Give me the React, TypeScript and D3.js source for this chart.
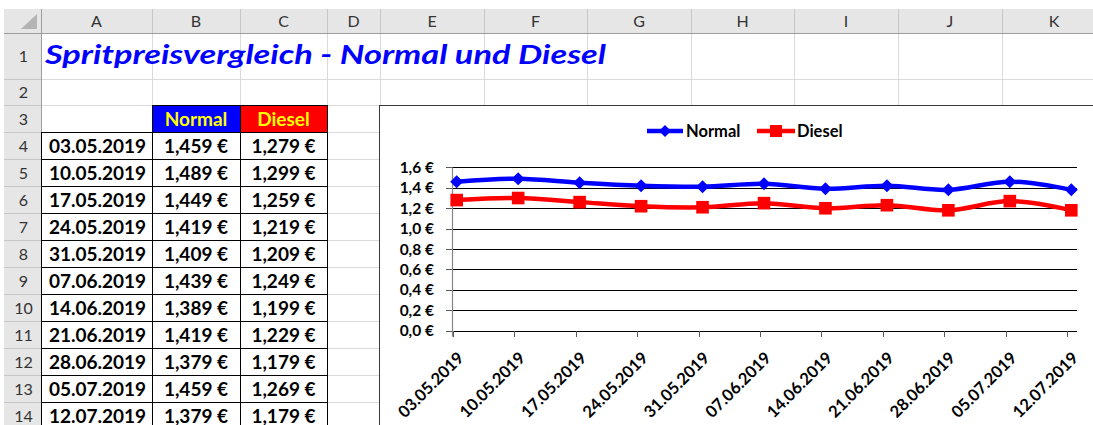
import React from "react";
import * as d3 from "d3";

// ---- data ----
const title = "Spritpreisvergleich - Normal und Diesel";
const columnLetters = ["A", "B", "C", "D", "E", "F", "G", "H", "I", "J", "K"];
const rowNumbers = [1, 2, 3, 4, 5, 6, 7, 8, 9, 10, 11, 12, 13, 14];
const seriesNames = ["Normal", "Diesel"];
const dates = [
  "03.05.2019", "10.05.2019", "17.05.2019", "24.05.2019", "31.05.2019", "07.06.2019",
  "14.06.2019", "21.06.2019", "28.06.2019", "05.07.2019", "12.07.2019",
];
const normal = [1.459, 1.489, 1.449, 1.419, 1.409, 1.439, 1.389, 1.419, 1.379, 1.459, 1.379];
const diesel = [1.279, 1.299, 1.259, 1.219, 1.209, 1.249, 1.199, 1.229, 1.179, 1.269, 1.179];
const yTicks = [0, 0.2, 0.4, 0.6, 0.8, 1.0, 1.2, 1.4, 1.6];

// ---- layout ----
const W = 1093, H = 425;
const colEdges = [4, 41, 152, 240, 327, 380, 484, 587, 691, 794, 898, 1002, 1106];
const rowEdges = [9, 33, 79, 105, 132, 159, 186, 213, 240, 267, 294, 321, 348, 375, 402, 429];
const FONT = "Lato, Calibri, 'Noto Sans', sans-serif";

const fmtPrice = (v: number) => v.toFixed(3).replace(".", ",") + " €";
const fmtTick = (v: number) => v.toFixed(1).replace(".", ",") + " €";

export default function App() {
  const x = d3.scalePoint<string>().domain(dates).range([452.7, 1067.3]);
  const y = d3.scaleLinear().domain([0, 1.6]).range([330.7, 167.3]);
  const mOff = 4;
  const line = d3
    .line<number>()
    .x((_, i) => (x(dates[i]) as number) + mOff)
    .y((v) => y(v))
    .curve(d3.curveCatmullRom.alpha(0.5));

  const headerBottom = rowEdges[1];
  const gridRight = W;
  const gridBottom = H;

  const diamond = (cx: number, cy: number, r: number) =>
    `M${cx},${cy - r}L${cx + r},${cy}L${cx},${cy + r}L${cx - r},${cy}Z`;

  const tableRows = dates.map((d, i) => ({ d, n: normal[i], s: diesel[i] }));

  return (
    <div style={{ position: "fixed", left: 0, top: 0, width: W, height: H, background: "#fff" }}>
      <svg width={W} height={H} style={{ display: "block" }} fontFamily={FONT}>
        <rect x={0} y={0} width={W} height={H} fill="#fff" />
        {/* cell gridlines */}
        {colEdges.slice(1).map((cx, i) => (
          <line key={"gv" + i} x1={cx + 0.5} x2={cx + 0.5} y1={headerBottom} y2={gridBottom} stroke="#dadada" />
        ))}
        {rowEdges.slice(1).map((ry, i) => (
          <line key={"gh" + i} x1={colEdges[1]} x2={gridRight} y1={ry + 0.5} y2={ry + 0.5} stroke="#dadada" />
        ))}
        {/* column header */}
        <rect x={colEdges[0]} y={rowEdges[0]} width={gridRight - colEdges[0]} height={rowEdges[1] - rowEdges[0]} fill="#e6e6e6" />
        {/* row header */}
        <rect x={colEdges[0]} y={rowEdges[1]} width={colEdges[1] - colEdges[0]} height={gridBottom - rowEdges[1]} fill="#e6e6e6" />
        {colEdges.slice(1).map((cx, i) => (
          <line key={"hv" + i} x1={cx + 0.5} x2={cx + 0.5} y1={rowEdges[0]} y2={rowEdges[1]} stroke="#c6c6c6" />
        ))}
        {rowEdges.slice(2).map((ry, i) => (
          <line key={"hh" + i} x1={colEdges[0]} x2={colEdges[1]} y1={ry + 0.5} y2={ry + 0.5} stroke="#c6c6c6" />
        ))}
        <line x1={colEdges[0]} x2={gridRight} y1={rowEdges[1] + 0.5} y2={rowEdges[1] + 0.5} stroke="#9e9e9e" />
        <line x1={colEdges[1] + 0.5} x2={colEdges[1] + 0.5} y1={rowEdges[0]} y2={gridBottom} stroke="#9e9e9e" />
        {/* corner triangle */}
        <path d={`M21,29L37,29L37,14Z`} fill="#b4b4b4" />
        {columnLetters.map((c, i) => (
          <text key={"cl" + i} x={(colEdges[i + 1] + colEdges[i + 2]) / 2} y={27} textAnchor="middle" fontSize={16} fill="#333">
            {c}
          </text>
        ))}
        {rowNumbers.map((r, i) => (
          <text key={"rn" + i} x={(colEdges[0] + colEdges[1]) / 2 + 1} y={(rowEdges[i + 1] + rowEdges[i + 2]) / 2 + 6} textAnchor="middle" fontSize={16} fill="#333">
            {r}
          </text>
        ))}
        {/* title */}
        <text x={45} y={64} fontSize={27} fontWeight="bold" fontStyle="italic" fill="#0000ff" textLength={561} lengthAdjust="spacingAndGlyphs">
          {title}
        </text>
        {/* header cells */}
        <rect x={colEdges[2] + 0.5} y={rowEdges[3] + 0.5} width={colEdges[3] - colEdges[2]} height={rowEdges[4] - rowEdges[3]} fill="#0000ff" stroke="#000" />
        <rect x={colEdges[3] + 0.5} y={rowEdges[3] + 0.5} width={colEdges[4] - colEdges[3]} height={rowEdges[4] - rowEdges[3]} fill="#ff0000" stroke="#000" />
        {seriesNames.map((s, i) => (
          <text key={"sh" + i} x={(colEdges[i + 2] + colEdges[i + 3]) / 2} y={(rowEdges[3] + rowEdges[4]) / 2 + 7} textAnchor="middle" fontSize={19} fontWeight="bold" fill="#ffff00">
            {s}
          </text>
        ))}
        {/* table */}
        {tableRows.map((r, i) => {
          const y0 = rowEdges[4 + i];
          const y1 = rowEdges[5 + i];
          const ty = (y0 + y1) / 2 + 7;
          return (
            <g key={"tr" + i}>
              {[0, 1, 2].map((c) => (
                <rect key={c} x={colEdges[c + 1] + 0.5} y={y0 + 0.5} width={colEdges[c + 2] - colEdges[c + 1]} height={y1 - y0} fill="#fff" stroke="#000" />
              ))}
              <text x={(colEdges[1] + colEdges[2]) / 2 + 1} y={ty} textAnchor="middle" fontSize={19} fontWeight="bold" fill="#000">{r.d}</text>
              <text x={(colEdges[2] + colEdges[3]) / 2} y={ty} textAnchor="middle" fontSize={19} fontWeight="bold" fill="#000">{fmtPrice(r.n)}</text>
              <text x={(colEdges[3] + colEdges[4]) / 2} y={ty} textAnchor="middle" fontSize={19} fontWeight="bold" fill="#000">{fmtPrice(r.s)}</text>
            </g>
          );
        })}
        {/* chart area */}
        <rect x={379.5} y={105.5} width={W} height={H} fill="#fff" stroke="#3a3a3a" />
        {/* gridlines */}
        {yTicks.map((t, i) => (
          <line key={"yg" + i} x1={452} x2={1077} y1={Math.round(y(t)) + 0.5} y2={Math.round(y(t)) + 0.5} stroke="#000" />
        ))}
        {/* y axis */}
        <line x1={452.5} x2={452.5} y1={y(1.6)} y2={y(0) + 6} stroke="#868686" strokeWidth={1.2} />
        {yTicks.map((t, i) => (
          <g key={"yt" + i}>
            <line x1={446} x2={452} y1={Math.round(y(t)) + 0.5} y2={Math.round(y(t)) + 0.5} stroke="#595959" />
            <text x={434} y={y(t) + 5.5} textAnchor="end" fontSize={15.5} fontWeight="bold" fill="#000">{fmtTick(t)}</text>
          </g>
        ))}
        {/* x ticks & labels */}
        {dates.map((d, i) => {
          const tx = Math.round(x(d) as number) + 0.5;
          return (
            <g key={"xt" + i}>
              <line x1={tx} x2={tx} y1={331} y2={337} stroke="#595959" />
              <text transform={`translate(${(x(d) as number) + 12},${359}) rotate(-45)`} textAnchor="end" fontSize={16.5} fontWeight="bold" fill="#000">
                {d}
              </text>
            </g>
          );
        })}
        {/* series */}
        <path d={line(normal) ?? ""} fill="none" stroke="#0000ff" strokeWidth={4.5} strokeLinejoin="round" />
        <path d={line(diesel) ?? ""} fill="none" stroke="#ff0000" strokeWidth={4.5} strokeLinejoin="round" />
        {normal.map((v, i) => (
          <path key={"nm" + i} d={diamond((x(dates[i]) as number) + mOff, y(v), 6.5)} fill="#0000ff" />
        ))}
        {diesel.map((v, i) => (
          <rect key={"dm" + i} x={(x(dates[i]) as number) + mOff - 6.3} y={y(v) - 6.3} width={12.6} height={12.6} fill="#ff0000" />
        ))}
        {/* legend */}
        <line x1={647} x2={683} y1={131} y2={131} stroke="#0000ff" strokeWidth={4.5} />
        <path d={diamond(665, 131, 6)} fill="#0000ff" />
        <text x={686} y={136.5} fontSize={16.5} fontWeight="bold" fill="#000">{seriesNames[0]}</text>
        <line x1={757} x2={795} y1={131} y2={131} stroke="#ff0000" strokeWidth={4.5} />
        <rect x={770} y={125} width={12} height={12} fill="#ff0000" />
        <text x={797} y={136.5} fontSize={16.5} fontWeight="bold" fill="#000">{seriesNames[1]}</text>
      </svg>
    </div>
  );
}
